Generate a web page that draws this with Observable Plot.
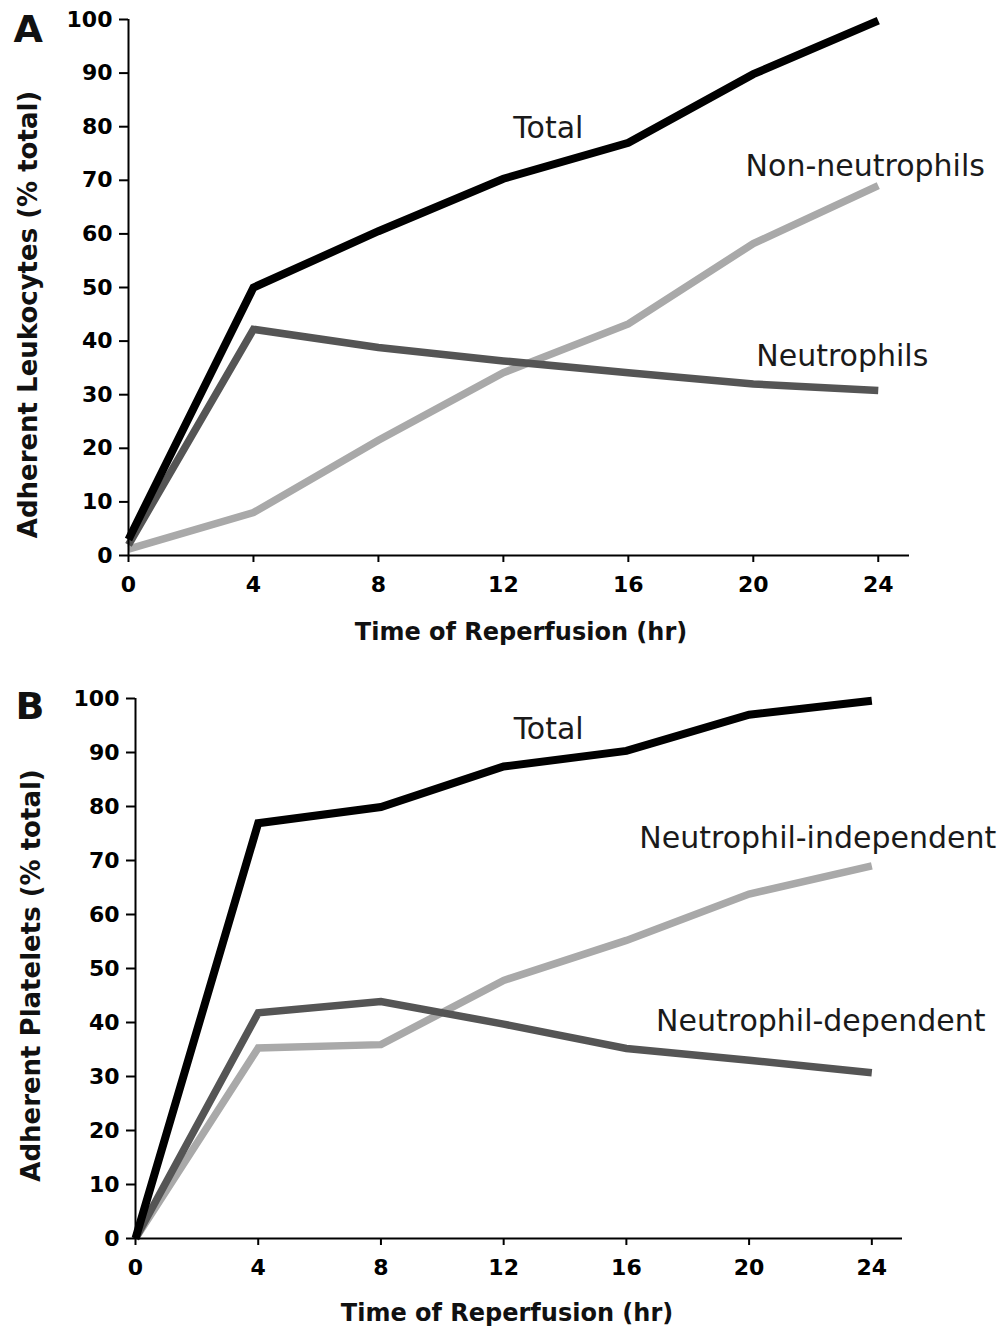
<!DOCTYPE html>
<html>
<head>
<meta charset="utf-8">
<script src="https://cdn.jsdelivr.net/npm/d3@7"></script>
<script src="https://cdn.jsdelivr.net/npm/@observablehq/plot@0.6"></script>
<style>
  html, body { margin: 0; padding: 0; background: #fff; }
  #chart { width: 1008px; height: 1330px; overflow: hidden; }
  #chart svg { display: block; }
</style>
</head>
<body>
<div id="chart"></div>
<script>
// ---- data ----
const hours = [0, 4, 8, 12, 16, 20, 24];
const xTicks = [0, 4, 8, 12, 16, 20, 24];
const yTicks = [0, 10, 20, 30, 40, 50, 60, 70, 80, 90, 100];

// Panel A: adherent leukocytes (% total)
const leukTotal = [3, 50, 60.5, 70.3, 77, 89.8, 99.8];
const leukNeutrophils = [2, 42.2, 38.8, 36.3, 34.1, 32, 30.8];
const leukNonNeutrophils = [1.2, 8, 21.5, 34.1, 43.2, 58.2, 69];

// Panel B: adherent platelets (% total)
const platTotal = [0, 76.9, 79.9, 87.4, 90.3, 97, 99.6];
const platNeutDependent = [0, 41.8, 43.9, 39.7, 35.2, 33, 30.7];
const platNeutIndependent = [0, 35.3, 35.9, 47.8, 55.2, 63.8, 69];

const xTitle = "Time of Reperfusion (hr)";
const yTitleA = "Adherent Leukocytes (% total)";
const yTitleB = "Adherent Platelets (% total)";

// ---- helpers ----
const toRows = (vals) => hours.map((h, i) => ({hour: h, value: vals[i]}));
const at = (vals, h) => [{hour: h, value: vals[hours.indexOf(h)]}];

const BLACK = "#000000", DARK = "#555555", LIGHT = "#a9a9a9";
const LABEL_FONT = 30;

function panel({height, marginTop, marginBottom, marginLeft, marginRight,
                letter, letterDx, letterDy, yTitle, yTitleDx, yTitleDy, xTitleDx, xTitleDy,
                series, labels}) {
  const marks = [];
  for (const s of series) {
    marks.push(Plot.line(toRows(s.values), {
      x: "hour", y: "value", stroke: s.color, strokeWidth: s.width,
      strokeLinejoin: "miter", strokeLinecap: "butt", strokeMiterlimit: 4
    }));
  }
  // axes
  marks.push(Plot.ruleY([0], {stroke: "black", strokeWidth: 2}));
  marks.push(Plot.ruleX([0], {stroke: "black", strokeWidth: 2}));
  marks.push(Plot.axisX({ticks: xTicks, tickSize: 7, tickPadding: 14, fontSize: 22, fontWeight: "bold",
    label: null, strokeWidth: 2, tickFormat: d => String(d)}));
  marks.push(Plot.axisY({ticks: yTicks, tickSize: 9, tickPadding: 7, fontSize: 22, fontWeight: "bold",
    label: null, strokeWidth: 2, tickFormat: d => String(d)}));
  // titles
  marks.push(Plot.text([xTitle], {frameAnchor: "bottom", dx: xTitleDx, dy: xTitleDy, fontSize: 24,
    fontWeight: "bold", textAnchor: "middle", lineAnchor: "middle", fill: "#111"}));
  marks.push(Plot.text([yTitle], {frameAnchor: "left", rotate: -90, dx: yTitleDx, dy: yTitleDy, fontSize: 26,
    fontWeight: "bold", textAnchor: "middle", lineAnchor: "middle", fill: "#111"}));
  marks.push(Plot.text([letter], {frameAnchor: "top-left", dx: letterDx, dy: letterDy, fontSize: 38,
    fontWeight: "bold", textAnchor: "start", lineAnchor: "middle", fill: "#111"}));
  // series labels
  for (const l of labels) {
    marks.push(Plot.text(at(l.values, l.hour), {x: "hour", y: "value", text: () => l.text,
      dx: l.dx, dy: l.dy, fontSize: LABEL_FONT, textAnchor: "middle", lineAnchor: "middle", fill: "#1a1a1a"}));
  }
  return Plot.plot({
    width: 1008, height, marginTop, marginBottom, marginLeft, marginRight,
    x: {domain: [0, 25]},
    y: {domain: [0, 100]},
    style: {fontFamily: "'DejaVu Sans', Verdana, sans-serif", background: "white", color: "black"},
    marks
  });
}

const chartA = panel({
  height: 650, marginTop: 19, marginBottom: 95, marginLeft: 128, marginRight: 99,
  letter: "A", letterDx: -115, letterDy: 10,
  yTitle: yTitleA, yTitleDx: -100, yTitleDy: 27,
  xTitleDx: 2, xTitleDy: 77,
  series: [
    {values: leukNonNeutrophils, color: LIGHT, width: 7.5},
    {values: leukNeutrophils, color: DARK, width: 7.5},
    {values: leukTotal, color: BLACK, width: 8}
  ],
  labels: [
    {text: "Total", values: leukTotal, hour: 12, dx: 45, dy: -50},
    {text: "Non-neutrophils", values: leukNonNeutrophils, hour: 24, dx: -13, dy: -19},
    {text: "Neutrophils", values: leukNeutrophils, hour: 24, dx: -36, dy: -34}
  ]
});

const chartB = panel({
  height: 680, marginTop: 48, marginBottom: 92, marginLeft: 135, marginRight: 106,
  letter: "B", letterDx: -120, letterDy: 8,
  yTitle: yTitleB, yTitleDx: -104, yTitleDy: 7,
  xTitleDx: -12, xTitleDy: 75,
  series: [
    {values: platNeutIndependent, color: LIGHT, width: 7.5},
    {values: platNeutDependent, color: DARK, width: 7.5},
    {values: platTotal, color: BLACK, width: 8}
  ],
  labels: [
    {text: "Total", values: platTotal, hour: 12, dx: 45, dy: -37},
    {text: "Neutrophil-independent", values: platNeutIndependent, hour: 24, dx: -54, dy: -28},
    {text: "Neutrophil-dependent", values: platNeutDependent, hour: 24, dx: -51, dy: -51}
  ]
});

const root = document.getElementById("chart");
root.appendChild(chartA);
root.appendChild(chartB);
</script>
</body>
</html>
